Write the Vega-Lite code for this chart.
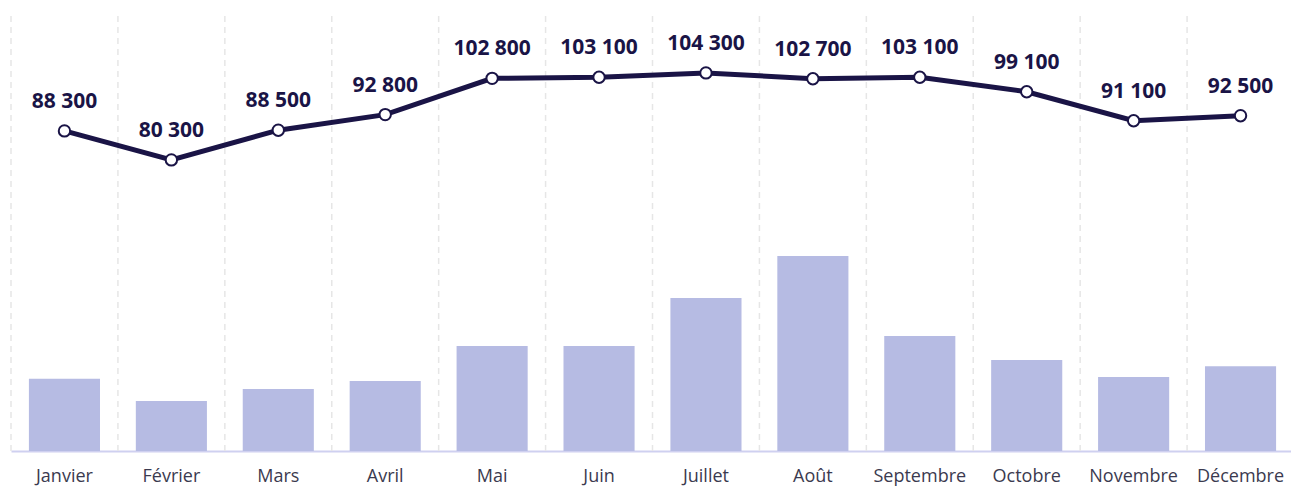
{
  "$schema": "https://vega.github.io/schema/vega-lite/v6.json",
  "width": 1283,
  "height": 435,
  "autosize": "none",
  "padding": {"left": 11, "top": 16, "right": 0, "bottom": 35},
  "config": {
    "view": {"stroke": null},
    "locale": {"number": {"decimal": ",", "thousands": " ", "grouping": [3], "currency": ["", " €"]}},
    "font": "Open Sans"
  },
  "data": {
    "values": [
      {"mois": "Janvier", "prix": 88300, "volume": 19900},
      {"mois": "Février", "prix": 80300, "volume": 13800},
      {"mois": "Mars", "prix": 88500, "volume": 17100},
      {"mois": "Avril", "prix": 92800, "volume": 19300},
      {"mois": "Mai", "prix": 102800, "volume": 29000},
      {"mois": "Juin", "prix": 103100, "volume": 29000},
      {"mois": "Juillet", "prix": 104300, "volume": 42200},
      {"mois": "Août", "prix": 102700, "volume": 53800},
      {"mois": "Septembre", "prix": 103100, "volume": 31700},
      {"mois": "Octobre", "prix": 99100, "volume": 25100},
      {"mois": "Novembre", "prix": 91100, "volume": 20400},
      {"mois": "Décembre", "prix": 92500, "volume": 23400}
    ]
  },
  "encoding": {
    "x": {
      "field": "mois", "type": "nominal", "sort": null,
      "scale": {"paddingInner": 0, "paddingOuter": 0},
      "axis": {
        "title": null, "labelAngle": 0, "ticks": false, "domainColor": "#cfd0f0", "domainWidth": 2,
        "labelFontSize": 18, "labelColor": "#3b3a4f", "labelPadding": 16, "labelFont": "Open Sans"
      }
    }
  },
  "layer": [
    {
      "mark": {"type": "rule", "color": "#e6e6e6", "strokeDash": [6, 5], "strokeWidth": 1.5},
      "encoding": {"x": {"field": "mois", "type": "nominal", "sort": null, "bandPosition": 0}}
    },
    {
      "mark": {"type": "bar", "color": "#b6bbe3", "width": {"band": 0.665}},
      "encoding": {
        "y": {"field": "volume", "type": "quantitative", "scale": {"domain": [0, 120000]}, "axis": null}
      }
    },
    {
      "mark": {"type": "line", "color": "#1a1446", "strokeWidth": 5},
      "encoding": {
        "y": {"field": "prix", "type": "quantitative", "scale": {"domain": [0, 120000]}, "axis": null}
      }
    },
    {
      "mark": {"type": "point", "filled": true, "fill": "#ffffff", "stroke": "#1a1446", "strokeWidth": 2, "size": 130, "opacity": 1},
      "encoding": {
        "y": {"field": "prix", "type": "quantitative", "scale": {"domain": [0, 120000]}, "axis": null}
      }
    },
    {
      "mark": {"type": "text", "fontWeight": "bold", "fontSize": 21, "color": "#1a1446", "baseline": "alphabetic", "dy": -23, "font": "Open Sans"},
      "encoding": {
        "y": {"field": "prix", "type": "quantitative", "scale": {"domain": [0, 120000]}, "axis": null},
        "text": {"field": "prix", "type": "quantitative", "format": ",.0f"}
      }
    }
  ]
}
